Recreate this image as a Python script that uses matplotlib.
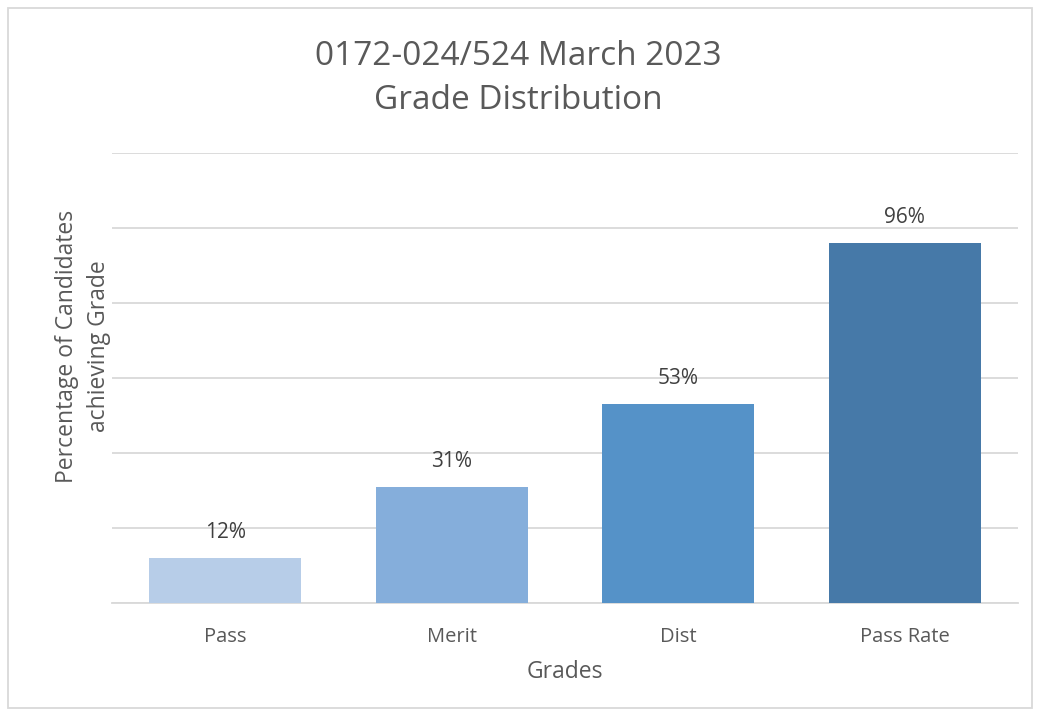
import matplotlib.pyplot as plt
from matplotlib.patches import Rectangle

# Data
grades = ['Pass', 'Merit', 'Dist', 'Pass Rate']
percent = [12, 31, 53, 96]
colors = ['#B7CDE8', '#85AEDB', '#5592C8', '#4679A8']

plt.rcParams['font.family'] = ['Open Sans', 'DejaVu Sans']
txt = '#595959'

fig = plt.figure(figsize=(10.37, 7.14), dpi=100)
ax = fig.add_axes([112 / 1037, 111 / 714, 906 / 1037, 450 / 714])

x = range(len(grades))
bars = ax.bar(x, percent, width=0.67, color=colors, zorder=3)

for b, v in zip(bars, percent):
    ax.annotate(f'{v}%', (b.get_x() + b.get_width() / 2, v),
                xytext=(0, 18.5), textcoords='offset points',
                ha='center', va='center', fontsize=15, color='#404040')

ax.set_ylim(0, 120)
ax.set_xlim(-0.5, 3.5)
ax.set_yticks(range(0, 121, 20))
ax.set_yticklabels([])
ax.tick_params(axis='y', length=0)
ax.set_xticks(list(x))
ax.set_xticklabels(grades, fontsize=14.5, color=txt)
ax.tick_params(axis='x', length=0, pad=17)
ax.grid(axis='y', color='#D9D9D9', linewidth=1.3, zorder=0)
for s in ['top', 'right', 'left']:
    ax.spines[s].set_visible(False)
ax.spines['bottom'].set_color('#D9D9D9')
ax.spines['bottom'].set_linewidth(1.3)

ax.set_xlabel('Grades', fontsize=16.5, color=txt, labelpad=10)

fig.text(83 / 1037, (714 - 346) / 714, 'Percentage of Candidates\nachieving Grade',
         rotation=90, ha='center', va='center', fontsize=16.5, color=txt,
         linespacing=1.45)

fig.suptitle('0172-024/524 March 2023\nGrade Distribution', fontsize=24,
             color=txt, y=0.944, linespacing=1.45)

# chart frame
fig.patches.append(Rectangle((8 / 1037, 6 / 714), 1024 / 1037, 700 / 714,
                             transform=fig.transFigure, fill=False,
                             edgecolor='#D9D9D9', linewidth=1.3))

fig.savefig('out.png', dpi=100)
